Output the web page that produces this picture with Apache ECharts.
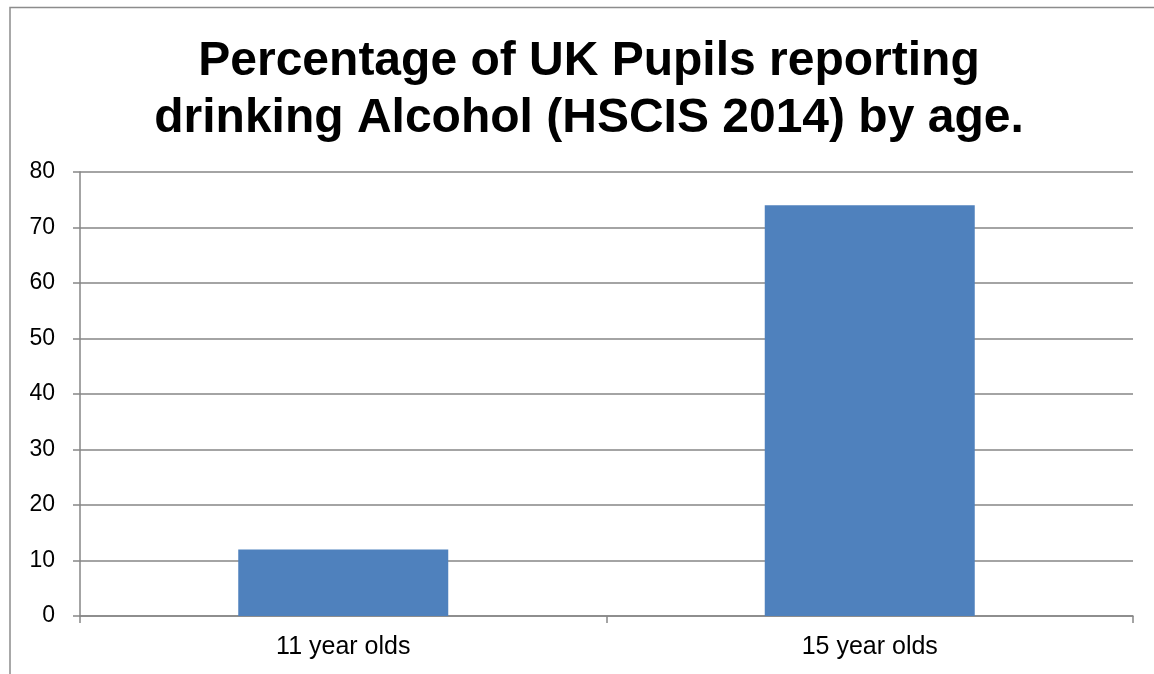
<!DOCTYPE html>
<html>
<head>
<meta charset="utf-8">
<script src="https://cdn.jsdelivr.net/npm/echarts@6/dist/echarts.min.js"></script>
<style>
  html, body { margin: 0; padding: 0; background: #ffffff; }
  #chart { width: 1154px; height: 674px; }
</style>
</head>
<body>
<div id="chart"></div>
<script>
// Survey share of pupils who report drinking alcohol, by age group
const chartTitle = 'Percentage of UK Pupils reporting\ndrinking Alcohol (HSCIS 2014) by age.';
const ageGroups = ['11 year olds', '15 year olds'];
const percentDrinking = [12, 74];
const yTicks = { min: 0, max: 80, interval: 10 };

const chart = echarts.init(document.getElementById('chart'), null, { renderer: 'canvas' });

const gray = '#868686';
const fontFamily = '"Liberation Sans", Arial, sans-serif';

chart.setOption({
  animation: false,
  backgroundColor: '#ffffff',
  title: {
    text: chartTitle,
    left: 584,
    top: 28,
    textAlign: 'center',
    textStyle: {
      fontFamily: fontFamily,
      fontWeight: 'bold',
      fontSize: 48,
      lineHeight: 57,
      color: '#000000'
    }
  },
  graphic: [{
    type: 'rect',
    silent: true,
    shape: { x: 10, y: 7.5, width: 1300, height: 800 },
    style: { fill: 'none', stroke: '#8c8c8c', lineWidth: 1.5 }
  }],
  grid: { left: 80, right: 21, top: 172, bottom: 58 },
  xAxis: {
    type: 'category',
    data: ageGroups,
    boundaryGap: true,
    axisLine: { show: true, lineStyle: { color: gray, width: 1.5 } },
    axisTick: { show: true, length: 7, lineStyle: { color: gray, width: 1.5 } },
    axisLabel: { color: '#000000', fontFamily: fontFamily, fontSize: 25, margin: 19 },
    splitLine: { show: false }
  },
  yAxis: {
    type: 'value',
    min: yTicks.min,
    max: yTicks.max,
    interval: yTicks.interval,
    axisLine: { show: true, lineStyle: { color: gray, width: 1.5 } },
    axisTick: { show: true, length: 7, lineStyle: { color: gray, width: 1.5 } },
    axisLabel: { color: '#000000', fontFamily: fontFamily, fontSize: 23, margin: 25 },
    splitLine: { show: true, lineStyle: { color: gray, width: 1.5 } }
  },
  series: [{
    type: 'bar',
    data: percentDrinking,
    barWidth: 210,
    itemStyle: { color: '#4f81bd' }
  }]
});
</script>
</body>
</html>
